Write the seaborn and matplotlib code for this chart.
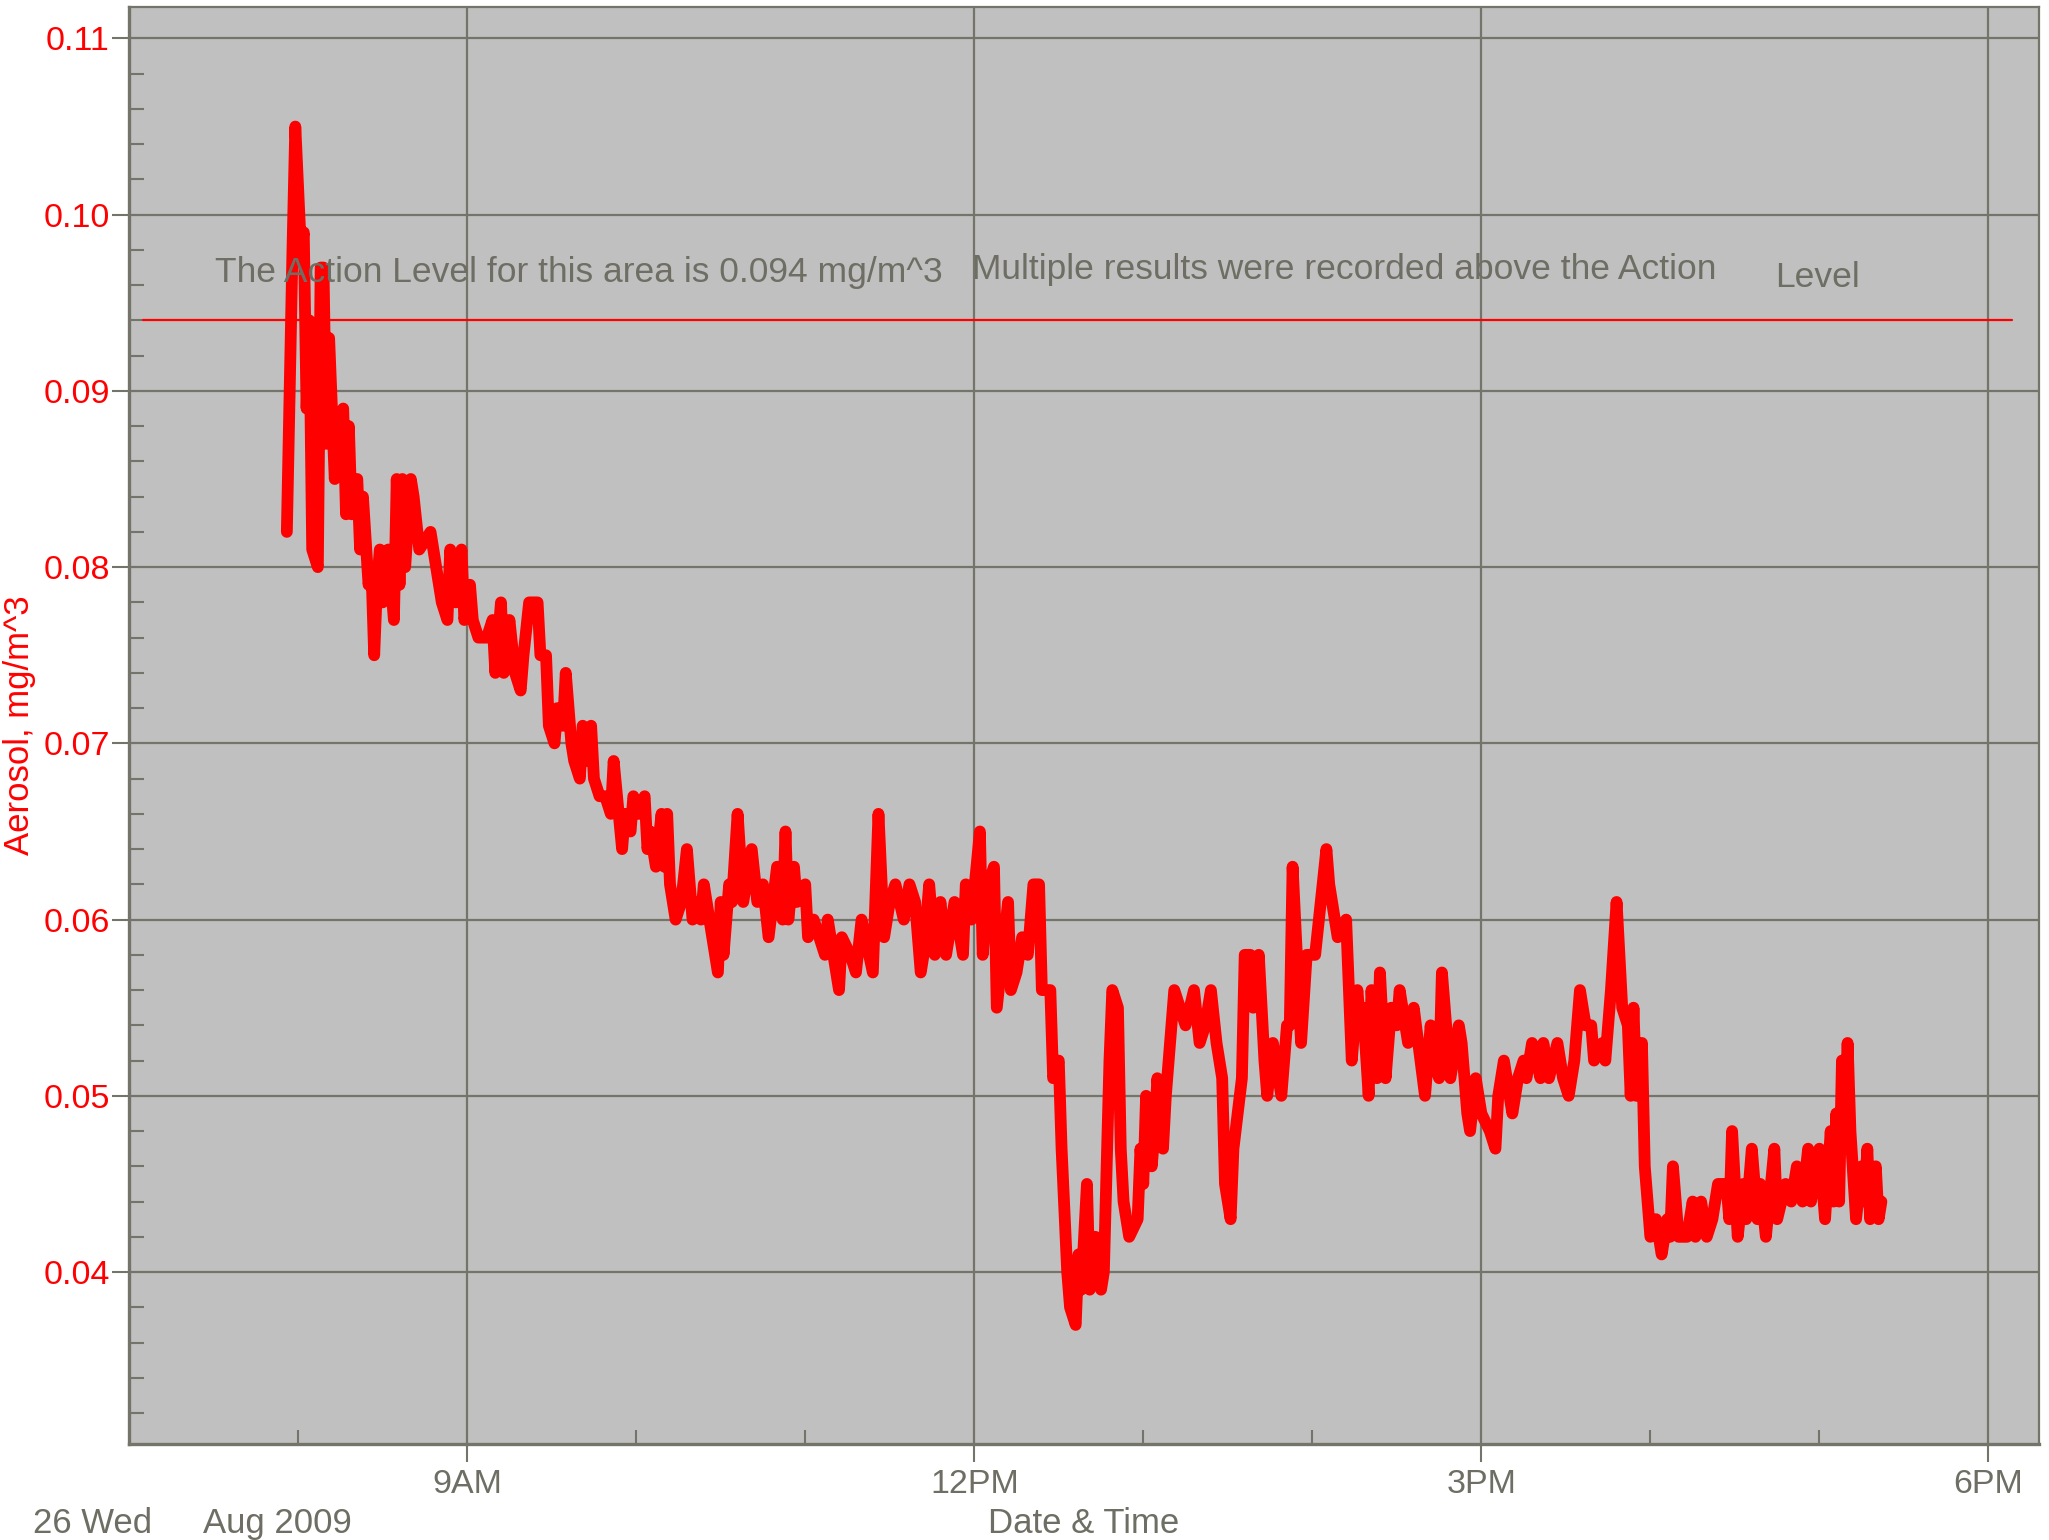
"""
Aerosol readings for 26 Aug 2009 against the action level.
"""

import pandas as pd
import matplotlib.pyplot as plt
import matplotlib.dates as mdates
from matplotlib.ticker import MultipleLocator, FuncFormatter
import seaborn as sns

#
#  Readings (clock time, mg/m^3)
#

times = [
    '07:56','07:58','07:59','08:01','08:02','08:03','08:04','08:05','08:07','08:08',
    '08:09','08:10','08:11','08:13','08:14','08:16','08:17','08:18','08:19','08:21',
    '08:22','08:23','08:25','08:26','08:27','08:28','08:29','08:30','08:32','08:34',
    '08:35','08:36','08:37','08:38','08:40','08:41','08:43','08:47','08:49','08:51',
    '08:53','08:54','08:56','08:58','08:59','09:01','09:02','09:04','09:07','09:09',
    '09:10','09:12','09:13','09:15','09:17','09:19','09:20','09:22','09:25','09:26',
    '09:28','09:29','09:31','09:32','09:34','09:35','09:37','09:38','09:40','09:41',
    '09:43','09:44','09:45','09:47','09:49','09:51','09:52','09:55','09:56','09:58',
    '09:59','10:01','10:03','10:04','10:05','10:07','10:09','10:10','10:11','10:12',
    '10:14','10:16','10:18','10:20','10:22','10:23','10:24','10:26','10:29','10:30',
    '10:31','10:33','10:34','10:36','10:38','10:41','10:43','10:45','10:47','10:50',
    '10:52','10:53','10:54','10:56','10:57','11:00','11:01','11:03','11:05','11:07',
    '11:08','11:10','11:12','11:13','11:16','11:18','11:20','11:24','11:26','11:28',
    '11:30','11:32','11:35','11:37','11:39','11:41','11:42','11:44','11:46','11:48',
    '11:50','11:53','11:56','11:57','11:59','12:02','12:03','12:05','12:07','12:08',
    '12:10','12:12','12:13','12:15','12:17','12:19','12:21','12:23','12:24','12:27',
    '12:28','12:30','12:31','12:33','12:34','12:36','12:37','12:38','12:40','12:41',
    '12:43','12:45','12:46','12:48','12:49','12:51','12:52','12:53','12:55','12:58',
    '12:59','13:00','13:01','13:03','13:04','13:05','13:07','13:08','13:11','13:13',
    '13:15','13:18','13:20','13:22','13:24','13:26','13:28','13:29','13:31','13:32',
    '13:35','13:36','13:38','13:39','13:41','13:43','13:44','13:46','13:49','13:51',
    '13:52','13:53','13:56','13:58','14:01','14:03','14:05','14:06','14:08','14:09',
    '14:12','14:14','14:16','14:17','14:18','14:20','14:21','14:23','14:24','14:26',
    '14:28','14:30','14:31','14:34','14:36','14:40','14:42','14:43','14:45','14:46',
    '14:49','14:52','14:53','14:55','14:56','14:58','15:00','15:03','15:05','15:06',
    '15:08','15:11','15:13','15:15','15:16','15:18','15:21','15:22','15:24','15:27',
    '15:29','15:31','15:33','15:35','15:37','15:39','15:40','15:43','15:44','15:46',
    '15:48','15:50','15:52','15:53','15:54','15:55','15:57','15:58','15:59','16:00',
    '16:02','16:04','16:06','16:07','16:08','16:10','16:13','16:15','16:16','16:18',
    '16:20','16:22','16:24','16:27','16:28','16:29','16:31','16:33','16:34','16:36',
    '16:38','16:39','16:41','16:44','16:45','16:48','16:50','16:52','16:54','16:56',
    '16:57','17:00','17:02','17:04','17:05','17:06','17:07','17:08','17:09','17:10',
    '17:11','17:13','17:15','17:16','17:17','17:18','17:20','17:21','17:22',
]

aerosol = [
    0.082,0.098,0.105,0.098,0.099,0.089,0.094,0.081,0.080,0.097,
    0.097,0.087,0.093,0.085,0.087,0.089,0.083,0.088,0.083,0.085,
    0.081,0.084,0.079,0.080,0.075,0.079,0.081,0.078,0.081,0.077,
    0.085,0.079,0.085,0.080,0.085,0.084,0.081,0.082,0.080,0.078,
    0.077,0.081,0.078,0.081,0.077,0.079,0.077,0.076,0.076,0.077,
    0.074,0.078,0.074,0.077,0.074,0.073,0.075,0.078,0.078,0.075,
    0.075,0.071,0.070,0.072,0.071,0.074,0.070,0.069,0.068,0.071,
    0.069,0.071,0.068,0.067,0.067,0.066,0.069,0.064,0.066,0.065,
    0.067,0.066,0.067,0.064,0.065,0.063,0.066,0.063,0.066,0.062,
    0.060,0.061,0.064,0.060,0.061,0.060,0.062,0.060,0.057,0.061,
    0.058,0.062,0.061,0.066,0.061,0.064,0.061,0.062,0.059,0.063,
    0.060,0.065,0.060,0.063,0.061,0.062,0.059,0.060,0.059,0.058,
    0.060,0.058,0.056,0.059,0.058,0.057,0.060,0.057,0.066,0.059,
    0.061,0.062,0.060,0.062,0.061,0.057,0.058,0.062,0.058,0.061,
    0.058,0.061,0.058,0.062,0.060,0.065,0.058,0.062,0.063,0.055,
    0.058,0.061,0.056,0.057,0.059,0.058,0.062,0.062,0.056,0.056,
    0.051,0.052,0.047,0.040,0.038,0.037,0.041,0.039,0.045,0.039,
    0.042,0.039,0.040,0.052,0.056,0.055,0.047,0.044,0.042,0.043,
    0.047,0.045,0.050,0.046,0.048,0.051,0.047,0.050,0.056,0.055,
    0.054,0.056,0.053,0.054,0.056,0.053,0.051,0.045,0.043,0.047,
    0.051,0.058,0.058,0.055,0.058,0.052,0.050,0.053,0.050,0.054,
    0.054,0.063,0.053,0.058,0.058,0.061,0.064,0.062,0.060,0.059,
    0.060,0.052,0.056,0.054,0.055,0.050,0.056,0.051,0.057,0.051,
    0.055,0.054,0.056,0.053,0.055,0.050,0.054,0.052,0.051,0.057,
    0.051,0.054,0.053,0.049,0.048,0.051,0.049,0.048,0.047,0.050,
    0.052,0.049,0.051,0.052,0.051,0.053,0.051,0.053,0.051,0.053,
    0.051,0.050,0.052,0.056,0.054,0.054,0.052,0.053,0.052,0.056,
    0.061,0.055,0.054,0.050,0.055,0.050,0.053,0.046,0.044,0.042,
    0.043,0.041,0.043,0.042,0.046,0.042,0.042,0.044,0.042,0.044,
    0.042,0.043,0.045,0.045,0.043,0.048,0.042,0.045,0.043,0.047,
    0.043,0.045,0.042,0.047,0.043,0.045,0.044,0.046,0.044,0.047,
    0.044,0.047,0.043,0.048,0.044,0.049,0.044,0.052,0.048,0.053,
    0.048,0.043,0.046,0.044,0.047,0.043,0.046,0.043,0.044,
]

action_level = 0.094

day = '2009-08-26'
x_start = '07:00'
x_end = '18:18'

#
#  Colours
#

bg = '#c0c0c0'
gridc = '#74746a'
textc = '#6e6e64'

#
#  Build the frame
#

df = pd.DataFrame({
    'time': pd.to_datetime([f'{day} {t}' for t in times]),
    'aerosol': aerosol,
})

sns.set_style('white', rc={'axes.facecolor': bg, 'axes.edgecolor': gridc,
                           'xtick.bottom': True, 'ytick.left': True})
plt.rcParams['font.family'] = ['Liberation Sans', 'DejaVu Sans']

fig = plt.figure(figsize=(20.49, 15.40), dpi=100)
ax = fig.add_axes([0.0630, 0.0623, 0.9322, 0.9331])

sns.lineplot(data=df, x='time', y='aerosol', ax=ax, color='#ff0000',
             lw=8.5, solid_joinstyle='round', solid_capstyle='round',
             sort=False, zorder=3)

ax.axhline(action_level, xmin=0.0075, xmax=0.986, color='#ff0000', lw=1.6, zorder=2)

#
#  Axes limits and ticks
#

ax.set_xlim(pd.Timestamp(f'{day} {x_start}'), pd.Timestamp(f'{day} {x_end}'))
ax.set_ylim(0.03024, 0.11178)

ax.xaxis.set_major_locator(mdates.HourLocator(byhour=[9, 12, 15, 18]))
ax.xaxis.set_minor_locator(mdates.HourLocator(byhour=[8, 10, 11, 13, 14, 16, 17]))
ax.xaxis.set_major_formatter(
    FuncFormatter(lambda v, p: mdates.num2date(v).strftime('%I%p').lstrip('0')))

ax.yaxis.set_major_locator(MultipleLocator(0.01))
ax.yaxis.set_minor_locator(MultipleLocator(0.002))
ax.yaxis.set_major_formatter(FuncFormatter(lambda v, p: f'{v:.2f}'))

ax.tick_params(axis='x', which='major', bottom=True, direction='out', length=13, width=1.5,
               color=gridc, labelcolor=textc, labelsize=24.5, pad=5)
ax.tick_params(axis='x', which='minor', bottom=True, direction='in', length=10, width=1.5,
               color=gridc)
ax.tick_params(axis='y', which='major', left=True, direction='out', length=12, width=1.5,
               color=gridc, labelcolor='#ff0000', labelsize=24.5, pad=2)
ax.tick_params(axis='y', which='minor', left=True, direction='in', length=11, width=1.5,
               color=gridc)

ax.grid(which='major', color=gridc, lw=1.6)
ax.set_axisbelow(True)

for side in ['left', 'bottom']:
    ax.spines[side].set_linewidth(2.4)
for side in ['top', 'right']:
    ax.spines[side].set_linewidth(1.6)

ax.set_xlabel('')
ax.set_ylabel('')

#
#  Annotations
#

ax.text(0.0452, 0.8155, 'The Action Level for this area is 0.094 mg/m^3',
        transform=ax.transAxes, color=textc, fontsize=25.5, va='center', ha='left')
ax.text(0.4415, 0.8173, 'Multiple results were recorded above the Action',
        transform=ax.transAxes, color=textc, fontsize=25.5, va='center', ha='left')
ax.text(0.8617, 0.8118, 'Level',
        transform=ax.transAxes, color=textc, fontsize=25.5, va='center', ha='left')

fig.text(0.0095, 0.529, 'Aerosol, mg/m^3', rotation=90, color='#ff0000',
         fontsize=25, va='center', ha='center')
fig.text(0.5287, 0.011, 'Date & Time', color=textc, fontsize=25, va='center', ha='center')
fig.text(0.016, 0.011, '26 Wed', color=textc, fontsize=25, va='center', ha='left')
fig.text(0.099, 0.011, 'Aug 2009', color=textc, fontsize=25, va='center', ha='left')

fig.savefig('out.png', facecolor='white')
